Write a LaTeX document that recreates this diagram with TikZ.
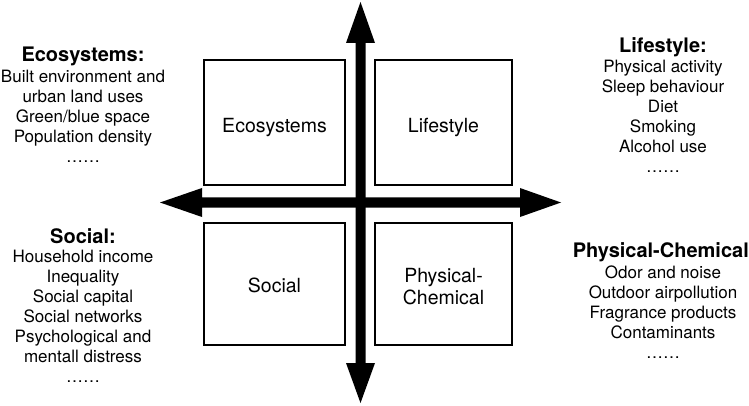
\documentclass[tikz,border=0pt]{standalone}
\usepackage{fontspec}
\setmainfont{TeX Gyre Heros}
\begin{document}
\begin{tikzpicture}[x=1pt,y=-1pt,
  box/.style={draw=black,line width=2.2pt,inner sep=0pt,minimum width=#1},
  lab/.style={inner sep=0pt,anchor=base,font=\fontsize{19.5}{22}\selectfont},
  blk/.style={inner sep=0pt,anchor=base,font=\fontsize{17}{20}\selectfont},
  ttl/.style={inner sep=0pt,anchor=base,font=\fontsize{20}{22}\bfseries\selectfont},
  axis/.style={fill=black,draw=none}]
\useasboundingbox (0,0) rectangle (749,406);
% boxes
\node[box=141pt,minimum height=125pt] (eco) at (274.5,122.5) {};
\node[box=137pt,minimum height=125pt] (life) at (443.5,122.5) {};
\node[box=141pt,minimum height=122pt] (soc) at (274.5,284) {};
\node[box=137pt,minimum height=122pt] (phys) at (443.5,284) {};
% axes
\fill[axis] (160,202.5) -- (202,188) -- (202,197.5) -- (520,197.5) -- (520,188) -- (561,202.5)
  -- (520,217) -- (520,207.5) -- (202,207.5) -- (202,217) -- cycle;
\fill[axis] (360.5,2) -- (375,43) -- (365.5,43) -- (365.5,363) -- (375,363) -- (360.5,403)
  -- (346,363) -- (355.5,363) -- (355.5,43) -- (346,43) -- cycle;
% box labels
\node[lab] (ecol) at (274.5,133) {Ecosystems};
\node[lab] (lifel) at (443.5,133) {Lifestyle};
\node[lab] (socl) at (274.5,292) {Social};
\node[lab] (physl) at (443.5,282) {\begin{tabular}[t]{@{}c@{}}Physical-\\[0pt]Chemical\end{tabular}};
% side titles
\node[ttl] (ecot) at (83,62) {Ecosystems:};
\node[ttl] (lifet) at (663,53) {Lifestyle:};
\node[ttl] (soct) at (83,243) {Social:};
\node[ttl,anchor=base east] (phyt) at (749,257) {Physical-Chemical};
% side lists
\node[blk] (ecob) at (83,83) {\begin{tabular}[t]{@{}c@{}}Built environment and\\urban land uses\\Green/blue space\\Population density\\\ldots\ldots\end{tabular}};
\node[blk] (lifeb) at (663,73) {\begin{tabular}[t]{@{}c@{}}Physical activity\\Sleep behaviour\\Diet\\Smoking\\Alcohol use\\\ldots\ldots\end{tabular}};
\node[blk] (socb) at (83,262) {\begin{tabular}[t]{@{}c@{}}Household income\\Inequality\\Social capital\\Social networks\\Psychological and\\mentall distress\\\ldots\ldots\end{tabular}};
\node[blk] (physb) at (663,278) {\begin{tabular}[t]{@{}c@{}}Odor and noise\\Outdoor airpollution\\Fragrance products\\Contaminants\\\ldots\ldots\end{tabular}};
\end{tikzpicture}
\end{document}
